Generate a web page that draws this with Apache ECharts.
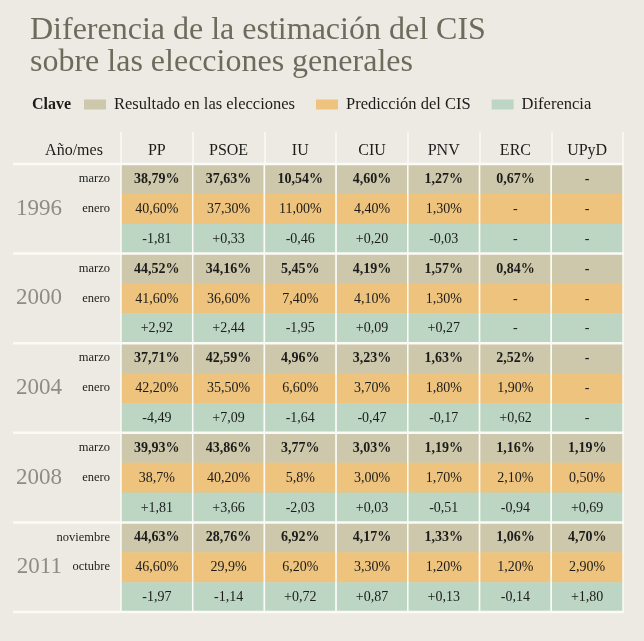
<!DOCTYPE html>
<html><head><meta charset="utf-8">
<script src="https://cdn.jsdelivr.net/npm/echarts@6/dist/echarts.min.js"></script>
<style>html,body{margin:0;padding:0;background:#edeae3}#c{width:644px;height:641px}</style>
</head><body><div id="c"></div>
<script>
const parties = ['PP','PSOE','IU','CIU','PNV','ERC','UPyD'];
const years = ['1996','2000','2004','2008','2011'];
const monthsResult = ['marzo','marzo','marzo','marzo','noviembre'];
const monthsPrediction = ['enero','enero','enero','enero','octubre'];
const seriesNames = ['Resultado en las elecciones','Predicción del CIS','Diferencia'];
const resultado = [
  ['38,79%','37,63%','10,54%','4,60%','1,27%','0,67%','-'],
  ['44,52%','34,16%','5,45%','4,19%','1,57%','0,84%','-'],
  ['37,71%','42,59%','4,96%','3,23%','1,63%','2,52%','-'],
  ['39,93%','43,86%','3,77%','3,03%','1,19%','1,16%','1,19%'],
  ['44,63%','28,76%','6,92%','4,17%','1,33%','1,06%','4,70%']
];
const prediccion = [
  ['40,60%','37,30%','11,00%','4,40%','1,30%','-','-'],
  ['41,60%','36,60%','7,40%','4,10%','1,30%','-','-'],
  ['42,20%','35,50%','6,60%','3,70%','1,80%','1,90%','-'],
  ['38,7%','40,20%','5,8%','3,00%','1,70%','2,10%','0,50%'],
  ['46,60%','29,9%','6,20%','3,30%','1,20%','1,20%','2,90%']
];
const diferencia = [
  ['-1,81','+0,33','-0,46','+0,20','-0,03','-','-'],
  ['+2,92','+2,44','-1,95','+0,09','+0,27','-','-'],
  ['-4,49','+7,09','-1,64','-0,47','-0,17','+0,62','-'],
  ['+1,81','+3,66','-2,03','+0,03','-0,51','-0,94','+0,69'],
  ['-1,97','-1,14','+0,72','+0,87','+0,13','-0,14','+1,80']
];

const tables = [resultado, prediccion, diferencia];
const colors = ['#cdc8ab', '#edc37e', '#bcd6c3'];
const LINE = '#fbfaf6';
const FONT = '"Liberation Serif", "DejaVu Serif", serif';

const rowCats = [];
years.forEach(y => { for (let t = 0; t < 3; t++) rowCats.push(y + '-' + t); });

function monthLabel(v, idx) {
  const i = Math.floor(idx / 3), t = idx % 3;
  if (t === 0) return monthsResult[i];
  if (t === 1) return monthsPrediction[i];
  return '';
}
function yearLabel(v, idx) {
  const i = Math.floor(idx / 3), t = idx % 3;
  return t === 1 ? years[i] : '';
}

function cellSeries(t) {
  const data = [];
  years.forEach((y, i) => parties.forEach((p, j) => data.push([j, i * 3 + t])));
  return {
    type: 'custom',
    name: seriesNames[t],
    itemStyle: { color: colors[t] },
    data: data,
    z: 2,
    silent: true,
    renderItem: function (params, api) {
      const di = params.dataIndex;
      const i = Math.floor(di / parties.length), j = di % parties.length;
      const c = api.coord([api.value(0), api.value(1)]);
      const s = api.size([1, 1]);
      const x0 = c[0] - s[0] / 2, y0 = c[1] - s[1] / 2;
      return {
        type: 'group',
        children: [
          { type: 'rect', shape: { x: x0, y: y0, width: s[0], height: s[1] + 0.5 }, style: { fill: colors[t] } },
          { type: 'line', shape: { x1: x0, y1: y0, x2: x0, y2: y0 + s[1] + 0.5 }, style: { stroke: LINE, lineWidth: 1.5 } },
          { type: 'line', shape: { x1: x0 + s[0], y1: y0, x2: x0 + s[0], y2: y0 + s[1] + 0.5 }, style: { stroke: LINE, lineWidth: 1.5 } },
          { type: 'text', style: { text: tables[t][i][j], x: c[0], y: c[1] + 0.5, align: 'center', verticalAlign: 'middle',
              font: (t === 0 ? 'bold ' : '') + '14px ' + FONT, fill: '#1c1c1a' } }
        ]
      };
    }
  };
}

const sepData = [[0, 0, 0]];
years.forEach((y, i) => sepData.push([0, i * 3 + 2, 1]));

const option = {
  backgroundColor: '#edeae3',
  animation: false,
  title: {
    text: 'Diferencia de la estimación del CIS\nsobre las elecciones generales',
    left: 30, top: 15, padding: 0,
    textStyle: { fontFamily: FONT, fontSize: 32, fontWeight: 'normal', color: '#6c6b5c', lineHeight: 32 }
  },
  graphic: [
    { type: 'text', left: 32, top: 97, style: { text: 'Clave', font: 'bold 16px ' + FONT, fill: '#1c1c1a' } }
  ],
  legend: {
    data: seriesNames.map(n => ({ name: n, icon: 'rect' })),
    left: 84, top: 96, padding: 0,
    itemWidth: 22, itemHeight: 10, itemGap: 21,
    selectedMode: false,
    textStyle: { fontFamily: FONT, fontSize: 16.5, color: '#1c1c1a', padding: [0, 0, 0, 3] }
  },
  grid: { left: 121, right: 21, top: 164, bottom: 29, outerBoundsMode: 'none', containLabel: false },
  xAxis: {
    type: 'category', data: parties, position: 'top',
    axisLine: { show: false },
    axisTick: { show: true, length: 32, lineStyle: { color: LINE, width: 1.5 } },
    axisLabel: { fontFamily: FONT, fontSize: 16, color: '#1c1c1a', margin: 5, interval: 0 },
    splitLine: { show: false }
  },
  yAxis: [
    {
      type: 'category', data: rowCats, inverse: true, position: 'left',
      axisLine: { show: false }, axisTick: { show: false }, splitLine: { show: false },
      axisLabel: { formatter: monthLabel, interval: 0, hideOverlap: false, fontFamily: FONT, fontSize: 12.5, color: '#1c1c1a', margin: 11, padding: [0, 0, 4, 0] }
    },
    {
      type: 'category', data: rowCats, inverse: true, position: 'left', offset: 0,
      axisLine: { show: false }, axisTick: { show: false }, splitLine: { show: false },
      axisLabel: { formatter: yearLabel, interval: 0, hideOverlap: false, fontFamily: FONT, fontSize: 23, color: '#8f8c84', margin: 59, padding: [6, 0, 0, 0] }
    }
  ],
  series: [
    cellSeries(0), cellSeries(1), cellSeries(2),
    {
      type: 'custom', name: 'sep', data: sepData, z: 5, silent: true,
      renderItem: function (params, api) {
        const c = api.coord([0, api.value(1)]);
        const s = api.size([1, 1]);
        const right = c[0] - s[0] / 2 + s[0] * parties.length;
        const y = api.value(2) === 0 ? c[1] - s[1] / 2 : c[1] + s[1] / 2;
        return { type: 'line', shape: { x1: 13, y1: y, x2: right + 0.75, y2: y }, style: { stroke: LINE, lineWidth: 2.5 } };
      }
    },
    {
      type: 'custom', name: 'title-header', data: [[0, 0]], silent: true, z: 4,
      renderItem: function (params, api) {
        const c = api.coord([0, 0]);
        const s = api.size([1, 1]);
        return { type: 'text', style: { text: 'Año/mes', x: 74, y: c[1] - s[1] / 2 - 13, align: 'center', verticalAlign: 'middle',
          font: '16px ' + FONT, fill: '#1c1c1a' } };
      }
    }
  ]
};
const chart = echarts.init(document.getElementById('c'));
chart.setOption(option);
</script>
</body></html>
